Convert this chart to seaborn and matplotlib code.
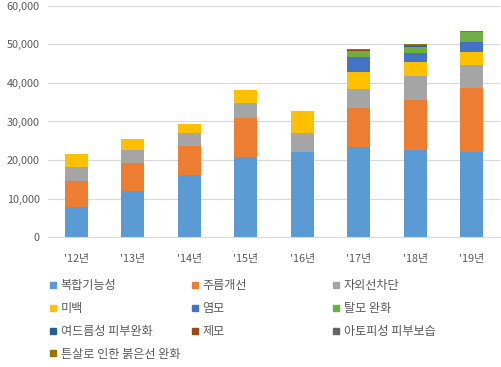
import pandas as pd
import numpy as np
import matplotlib.pyplot as plt
import seaborn as sns
from matplotlib.lines import Line2D
from matplotlib.ticker import FuncFormatter

# data
years = ["'12년", "'13년", "'14년", "'15년", "'16년", "'17년", "'18년", "'19년"]
series = ["복합기능성", "주름개선", "자외선차단", "미백", "염모", "탈모 완화",
          "여드름성 피부완화", "제모", "아토피성 피부보습", "튼살로 인한 붉은선 완화"]
multi = [7700, 12000, 16100, 20900, 22200, 23300, 22600, 22200]
wrinkle = [6800, 7100, 7600, 10100, 0, 10100, 13000, 16600]
uv = [3800, 3500, 3200, 3900, 4900, 5000, 6200, 5900]
whitening = [3200, 2900, 2500, 3300, 5600, 4500, 3700, 3300]
hair_dye = [0, 0, 0, 0, 0, 3900, 2200, 2700]
hair_loss = [0, 0, 0, 0, 0, 1500, 1700, 2400]
acne = [0, 0, 0, 0, 0, 0, 150, 0]
hair_removal = [0, 0, 0, 0, 0, 250, 100, 200]
atopy = [0, 0, 0, 0, 0, 0, 250, 0]
stretch = [0, 0, 0, 0, 0, 150, 150, 300]

colors = ["#5B9BD5", "#ED7D31", "#A5A5A5", "#FFC000", "#4472C4", "#70AD47",
          "#255E91", "#9E480E", "#636363", "#997300"]

df = pd.DataFrame([multi, wrinkle, uv, whitening, hair_dye, hair_loss,
                   acne, hair_removal, atopy, stretch], index=series).T
df["year"] = years
cum = df[series].cumsum(axis=1)

sns.set_style("white")
plt.rcParams["font.family"] = ["Noto Sans CJK KR", "DejaVu Sans"]

fig = plt.figure(figsize=(5.02, 3.67), dpi=100)
ax = fig.add_axes([0.096, 0.354, 0.9, 0.630])

# stacked bars: draw cumulative totals from the top series down
for col, c in reversed(list(zip(series, colors))):
    sns.barplot(x=years, y=cum[col].values, color=c, width=0.41,
                saturation=1, errorbar=None, linewidth=0, ax=ax)

ax.set_ylim(0, 60000)
ax.set_yticks(range(0, 60001, 10000))
ax.yaxis.set_major_formatter(FuncFormatter(lambda v, p: f"{int(v):,}"))
ax.set_axisbelow(True)
ax.yaxis.grid(True, color="#D9D9D9", linewidth=0.8)
for s in ["top", "right", "left"]:
    ax.spines[s].set_visible(False)
ax.spines["bottom"].set_color("#D9D9D9")
ax.tick_params(axis="both", length=0, labelsize=7.8, colors="#595959")
ax.tick_params(axis="x", pad=12)
ax.tick_params(axis="y", pad=6)
ax.set_xlabel("")
ax.set_ylabel("")

# legend in three columns, filled row by row
handles = [Line2D([], [], marker="s", linestyle="", markersize=5,
                  markerfacecolor=c, markeredgecolor=c) for c in colors]
col_x = [0.099, 0.382, 0.663]
for i, x in enumerate(col_x):
    idx = list(range(i, len(series), 3))
    fig.legend([handles[k] for k in idx], [series[k] for k in idx],
               loc="upper left", bbox_to_anchor=(x, 0.240), frameon=False,
               fontsize=8.7, labelcolor="#595959", handlelength=0.6,
               handletextpad=0.3, borderpad=0, borderaxespad=0,
               labelspacing=0.82)

fig.savefig("out.png", dpi=100)
